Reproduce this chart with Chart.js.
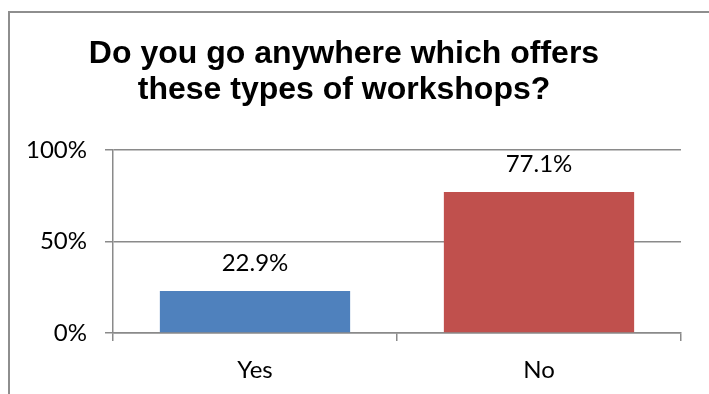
<!DOCTYPE html>
<html>
<head>
<meta charset="utf-8">
<script src="https://cdn.jsdelivr.net/npm/chart.js@4.4.1/dist/chart.umd.min.js"></script>
<style>
  html, body { margin: 0; padding: 0; background: #fff; overflow: hidden; }
  #wrap { position: relative; width: 709px; height: 394px; }
  #frame {
    position: absolute; left: 8px; top: 11px; width: 800px; height: 500px;
    border: 2px solid #8e8e8e; box-sizing: border-box;
  }
  canvas { position: absolute; left: 0; top: 0; }
</style>
</head>
<body>
<div id="wrap">
  <div id="frame"></div>
  <canvas id="chart" width="709" height="394"></canvas>
</div>
<script>
// survey answers
const answers = ['Yes', 'No'];
const shares = [0.229, 0.771];
const barColors = ['#4F81BD', '#C0504D'];
const titleLines = ['Do you go anywhere which offers', 'these types of workshops?'];

const labelFont = { family: 'Lato, "Open Sans", sans-serif', size: 24 };

// draw the percentage above each bar
const valueLabels = {
  id: 'valueLabels',
  afterDatasetsDraw(chart) {
    const ctx = chart.ctx;
    const meta = chart.getDatasetMeta(0);
    ctx.save();
    ctx.font = labelFont.size + 'px ' + labelFont.family;
    ctx.fillStyle = '#000';
    ctx.textAlign = 'center';
    ctx.textBaseline = 'middle';
    meta.data.forEach((bar, i) => {
      ctx.fillText((shares[i] * 100).toFixed(1) + '%', bar.x, bar.y - 28);
    });
    ctx.restore();
  }
};

new Chart(document.getElementById('chart').getContext('2d'), {
  type: 'bar',
  data: {
    labels: answers,
    datasets: [{
      data: shares,
      backgroundColor: barColors,
      borderWidth: 0,
      categoryPercentage: 0.67,
      barPercentage: 1
    }]
  },
  options: {
    responsive: false,
    animation: false,
    devicePixelRatio: 1,
    layout: { padding: { left: 7, right: 28, top: 0, bottom: 0 } },
    plugins: {
      legend: { display: false },
      tooltip: { enabled: false },
      title: {
        display: true,
        text: titleLines,
        color: '#000',
        font: { family: '"Liberation Sans", Arial, sans-serif', size: 32, weight: 'bold', lineHeight: 1.125 },
        padding: { top: 36, bottom: 42 }
      }
    },
    scales: {
      y: {
        min: 0,
        max: 1,
        ticks: {
          stepSize: 0.5,
          color: '#000',
          font: labelFont,
          padding: 18,
          callback: v => Math.round(v * 100) + '%'
        },
        grid: { color: '#8a8a8a', lineWidth: 1.5, tickLength: 8, tickColor: '#8a8a8a' },
        border: { color: '#8a8a8a', width: 1.5 },
        afterFit(scale) { scale.width = 106; }
      },
      x: {
        ticks: { color: '#000', font: labelFont, padding: 15 },
        grid: { drawOnChartArea: false, offset: true, tickLength: 8, color: '#8a8a8a', lineWidth: 1.5 },
        border: { color: '#8a8a8a', width: 1.5 },
        afterFit(scale) { scale.height = 61; }
      }
    }
  },
  plugins: [valueLabels]
});
</script>
</body>
</html>
